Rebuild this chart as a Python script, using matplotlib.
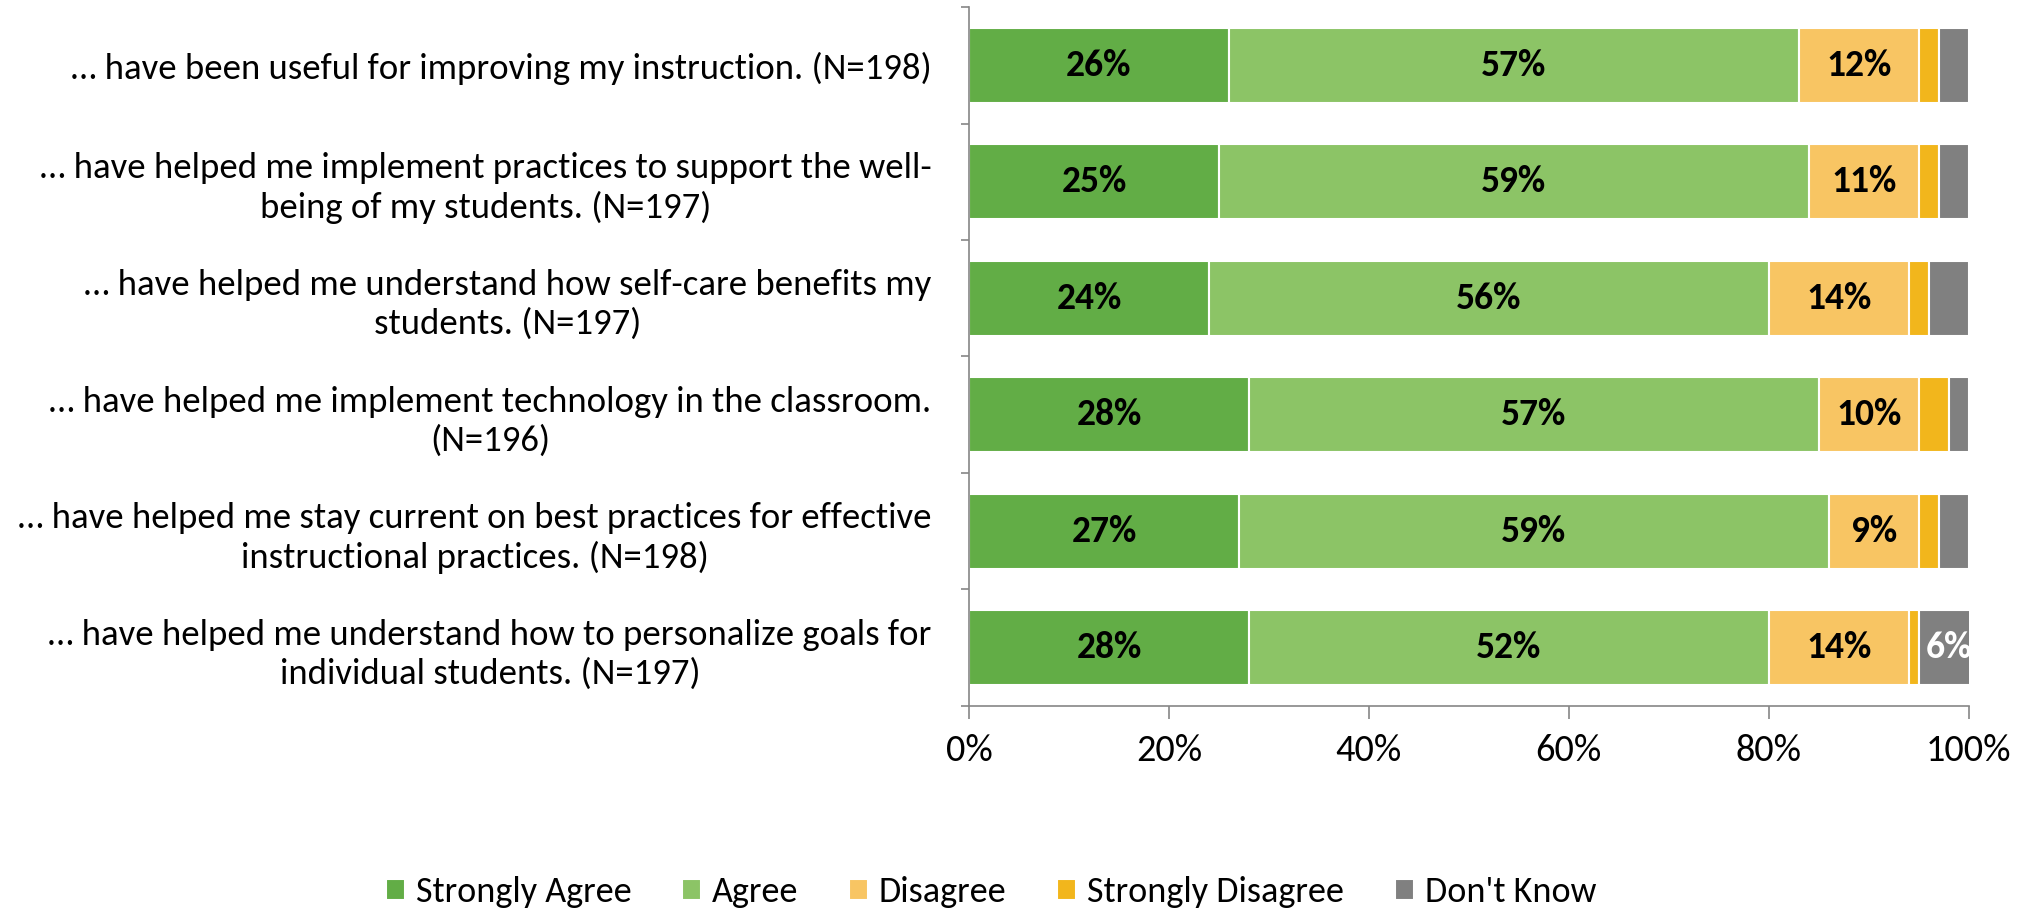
import numpy as np
import matplotlib
matplotlib.use("Agg")
import matplotlib.pyplot as plt
from matplotlib.ticker import PercentFormatter

plt.rcParams['font.family'] = ['Carlito', 'Lato', 'DejaVu Sans']

# data (percent)
questions = [
    "… have been useful for improving my instruction. (N=198)",
    "… have helped me implement practices to support the well-\nbeing of my students. (N=197)",
    "… have helped me understand how self-care benefits my\nstudents. (N=197)",
    "… have helped me implement technology in the classroom.\n(N=196)",
    "… have helped me stay current on best practices for effective\ninstructional practices. (N=198)",
    "… have helped me understand how to personalize goals for\nindividual students. (N=197)",
]
responses = ["Strongly Agree", "Agree", "Disagree", "Strongly Disagree", "Don't Know"]
strongly_agree = [26, 25, 24, 28, 27, 28]
agree = [57, 59, 56, 57, 59, 52]
disagree = [12, 11, 14, 10, 9, 14]
strongly_disagree = [2, 2, 2, 3, 2, 1]
dont_know = [3, 3, 4, 2, 3, 6]

colors = ["#62AD46", "#8CC466", "#F8C563", "#F2B61C", "#808080"]
label_colors = ["black", "black", "black", "black", "white"]

series = [strongly_agree, agree, disagree, strongly_disagree, dont_know]

fig = plt.figure(figsize=(20.28, 9.10), dpi=100)
ax = fig.add_axes([0.4778, 0.2242, 0.4929, 0.7681])

y = np.arange(len(questions))
left = np.zeros(len(questions))
for vals, name, col, lc in zip(series, responses, colors, label_colors):
    vals = np.array(vals, dtype=float)
    ax.barh(y, vals, left=left, height=0.64, color=col, edgecolor="white",
            linewidth=1.5, label=name)
    for yi, l, v in zip(y, left, vals):
        if v >= 5:
            ax.text(l + v / 2, yi, f"{v:.0f}%", ha="center", va="center",
                    fontsize=27, fontweight="bold", color=lc, clip_on=True)
    left += vals

ax.set_xlim(0, 100)
ax.set_ylim(len(questions) - 0.5, -0.5)
ax.xaxis.set_major_formatter(PercentFormatter(decimals=0))
ax.set_xticks(np.arange(0, 101, 20))

# boundaries as major ticks, labels as minor ticks
ax.set_yticks(np.arange(-0.5, len(questions), 1))
ax.set_yticklabels([])
ax.set_yticks(y, minor=True)
ax.set_yticklabels(questions, minor=True, fontsize=26.5)
for t in ax.get_yticklabels(minor=True):
    t.set_multialignment("center")
    t.set_linespacing(1.25)
ax.tick_params(axis="y", which="minor", length=0, pad=27)
ax.tick_params(axis="y", which="major", length=6, color="#868686", width=1.2)
ax.tick_params(axis="x", length=9, color="#868686", width=1.2, labelsize=27.5, pad=11)

for s in ["top", "right"]:
    ax.spines[s].set_visible(False)
for s in ["left", "bottom"]:
    ax.spines[s].set_color("#868686")
    ax.spines[s].set_linewidth(1.2)

fig.legend(loc="center", bbox_to_anchor=(991 / 2028, 1 - 892 / 910), ncol=5,
           frameon=False, fontsize=26, handlelength=0.53, handleheight=0.53,
           handletextpad=0.3, columnspacing=1.4)

fig.savefig("out.png", dpi=100)
